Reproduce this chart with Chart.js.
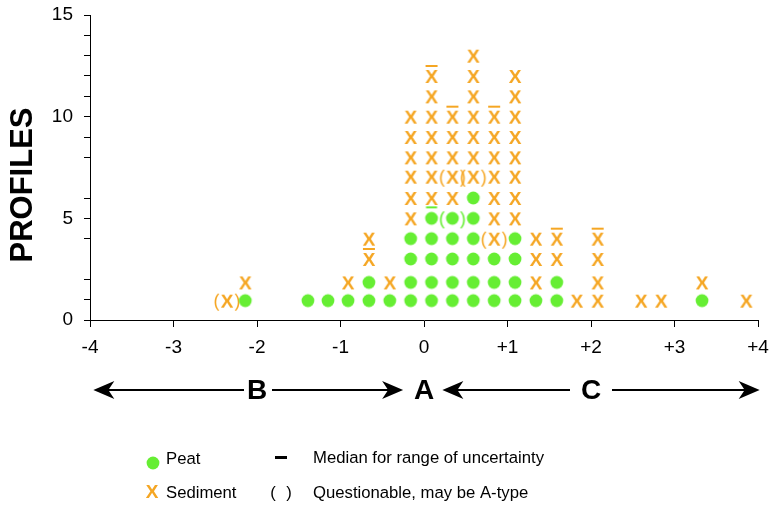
<!DOCTYPE html>
<html><head><meta charset="utf-8">
<script src="https://cdn.jsdelivr.net/npm/chart.js@4/dist/chart.umd.min.js"></script>
<style>html,body{margin:0;padding:0;background:#fff}canvas{display:block}</style>
</head><body>
<canvas id="c" width="770" height="505"></canvas>
<script>
// ---- data ----
// x position (deviation) of each column of marks
const columnX = [-2.36, -2.14, -1.39, -1.15, -0.91, -0.66, -0.41, -0.16, 0.09, 0.34, 0.59, 0.84, 1.09, 1.34, 1.59, 1.83, 2.08, 2.60, 2.84, 3.33, 3.86];
// marks in each column, bottom to top:
// P peat, p peat (median), q questionable peat, S sediment, s sediment (median), Q questionable sediment
const columnStack = ['Q', 'PS', 'P', 'P', 'PS', 'PPsS', 'PS', 'PPPPSSSSSS', 'PPPPpSSSSSSs', 'PPPPqSQSSs', 'PPPPPPQSSSSSS', 'PPPQSSSSSs', 'PPPPSSSSSSSS', 'PSSS', 'PPSs', 'S', 'SSSs', 'S', 'S', 'PS', 'S'];
// profile count level of each stacked row (1st, 2nd, 3rd ...)
const rowLevel = [0.95, 1.85, 3, 4, 5, 6, 7.05, 8, 9, 10, 11, 12, 13];
const xTickLabels = {'-4': '-4', '-3': '-3', '-2': '-2', '-1': '-1', '0': '0', '1': '+1', '2': '+2', '3': '+3', '4': '+4'};
const yTickLabels = {'0': '0', '5': '5', '10': '10', '15': '15'};
const zoneLabels = ['B', 'A', 'C'];
const zoneCenters = [-2, 0, 2];

// ---- styling ----
const GREEN = '#66ee33', ORANGE = '#f5a623';
const FONT = "'Liberation Sans', Arial, Helvetica, sans-serif";

function makeMarker(kind) {
  const c = document.createElement('canvas');
  c.width = 36; c.height = 32;
  const g = c.getContext('2d');
  const cx = 18, cy = 16;
  const isPeat = 'Ppq'.includes(kind);
  const col = isPeat ? GREEN : ORANGE;
  g.fillStyle = col;
  if (isPeat) {
    g.beginPath(); g.arc(cx, cy, 6.4, 0, Math.PI * 2); g.fill();
  } else {
    g.font = 'bold 19px ' + FONT;
    g.textAlign = 'center'; g.textBaseline = 'alphabetic';
    g.fillText('X', cx, cy + 7);
  }
  if (kind === 'p') g.fillRect(cx - 5.5, cy - 12, 11, 2);
  if (kind === 's') g.fillRect(cx - 6, cy - 11, 12, 2);
  if (kind === 'q' || kind === 'Q') {
    g.font = '18px ' + FONT;
    g.textAlign = 'center'; g.textBaseline = 'alphabetic';
    g.fillText('(', cx - 10.5, cy + 6);
    g.fillText(')', cx + 10.5, cy + 6);
  }
  return c;
}

const kindOrder = ['P', 'p', 'q', 'S', 's', 'Q'];
const kindNames = {P: 'Peat', p: 'Peat (median)', q: 'Peat (questionable)', S: 'Sediment', s: 'Sediment (median)', Q: 'Sediment (questionable)'};
const pts = {};
kindOrder.forEach(k => pts[k] = []);
columnStack.forEach((stack, i) => {
  [...stack].forEach((code, j) => pts[code].push({x: columnX[i], y: rowLevel[j]}));
});
const datasets = kindOrder.map(k => ({
  label: kindNames[k],
  data: pts[k],
  pointStyle: makeMarker(k),
  pointRadius: 6,
  showLine: false,
  clip: false
}));

const decor = {
  id: 'decor',
  afterDraw(chart) {
    const ctx = chart.ctx, xs = chart.scales.x;
    ctx.save();
    // y-axis title
    ctx.fillStyle = '#000';
    ctx.font = 'bold 31px ' + FONT;
    ctx.textAlign = 'center'; ctx.textBaseline = 'middle';
    ctx.translate(22, 185); ctx.rotate(-Math.PI / 2);
    ctx.fillText('PROFILES', 0, 1);
    ctx.restore();

    // zones with arrows
    ctx.save();
    const ay = chart.chartArea.bottom + 70;
    ctx.fillStyle = '#000'; ctx.strokeStyle = '#000'; ctx.lineWidth = 2;
    ctx.font = 'bold 28px ' + FONT;
    ctx.textAlign = 'center'; ctx.textBaseline = 'middle';
    zoneLabels.forEach((t, i) => ctx.fillText(t, xs.getPixelForValue(zoneCenters[i]), ay + 1));
    const arrows = [
      {from: -2, gap: 13, tip: -3.96},
      {from: -2, gap: 15, tip: -0.25},
      {from: 2, gap: 21, tip: 0.22},
      {from: 2, gap: 21, tip: 4.02}
    ];
    arrows.forEach(a => {
      const c = xs.getPixelForValue(a.from), t = xs.getPixelForValue(a.tip);
      const dir = t > c ? 1 : -1;
      ctx.beginPath();
      ctx.moveTo(c + dir * a.gap, ay); ctx.lineTo(t - dir * 12, ay); ctx.stroke();
      ctx.beginPath();
      ctx.moveTo(t, ay);
      ctx.lineTo(t - dir * 21, ay - 9);
      ctx.lineTo(t - dir * 15, ay);
      ctx.lineTo(t - dir * 21, ay + 9);
      ctx.closePath(); ctx.fill();
    });
    ctx.restore();

    // legend
    ctx.save();
    ctx.fillStyle = GREEN;
    ctx.beginPath(); ctx.arc(153, 463, 6.4, 0, Math.PI * 2); ctx.fill();
    ctx.fillStyle = ORANGE;
    ctx.font = 'bold 19px ' + FONT; ctx.textAlign = 'center'; ctx.textBaseline = 'alphabetic';
    ctx.fillText('X', 152, 498);
    ctx.fillStyle = '#000';
    ctx.fillRect(275, 456, 12, 3);
    ctx.font = '16.7px ' + FONT; ctx.textAlign = 'left'; ctx.textBaseline = 'middle';
    ctx.fillText('Peat', 166, 459);
    ctx.fillText('Sediment', 166, 493);
    ctx.fillText('Median for range of uncertainty', 313, 458);
    ctx.fillText('Questionable, may be A-type', 313, 493);
    ctx.textAlign = 'center';
    ctx.fillText('(', 273, 493);
    ctx.fillText(')', 289, 493);
    ctx.restore();
  }
};

new Chart(document.getElementById('c'), {
  type: 'scatter',
  data: {datasets},
  plugins: [decor],
  options: {
    responsive: false,
    devicePixelRatio: 1,
    animation: false,
    events: [],
    layout: {padding: {top: 15, right: 12, left: 0, bottom: 0}},
    plugins: {legend: {display: false}, tooltip: {enabled: false}},
    scales: {
      x: {
        type: 'linear', min: -4, max: 4,
        afterFit: s => { s.height = 185; s.paddingLeft = 0; s.paddingRight = 0; },
        afterBuildTicks: s => { s.ticks = Object.keys(xTickLabels).map(v => ({value: +v})); },
        ticks: {
          autoSkip: false, maxRotation: 0, color: '#000', padding: 9,
          font: {family: FONT, size: 19},
          callback: v => xTickLabels[String(v)] ?? ''
        },
        grid: {drawOnChartArea: false, drawTicks: true, tickLength: 7, color: '#000', lineWidth: 1},
        border: {display: true, color: '#000', width: 1}
      },
      y: {
        type: 'linear', min: 0, max: 15,
        afterFit: s => { s.width = 90; s.paddingTop = 0; s.paddingBottom = 0; },
        ticks: {
          stepSize: 1, autoSkip: false, color: '#000', padding: 11,
          font: {family: FONT, size: 19},
          callback: v => yTickLabels[String(v)] ?? ''
        },
        grid: {
          drawOnChartArea: false, drawTicks: true, tickLength: 6, lineWidth: 1,
          tickColor: c => (c.tick && (c.tick.value === 3 || c.tick.value === 7)) ? 'rgba(0,0,0,0)' : '#000',
          color: '#000'
        },
        border: {display: true, color: '#000', width: 1}
      }
    }
  }
});
</script>
</body></html>
